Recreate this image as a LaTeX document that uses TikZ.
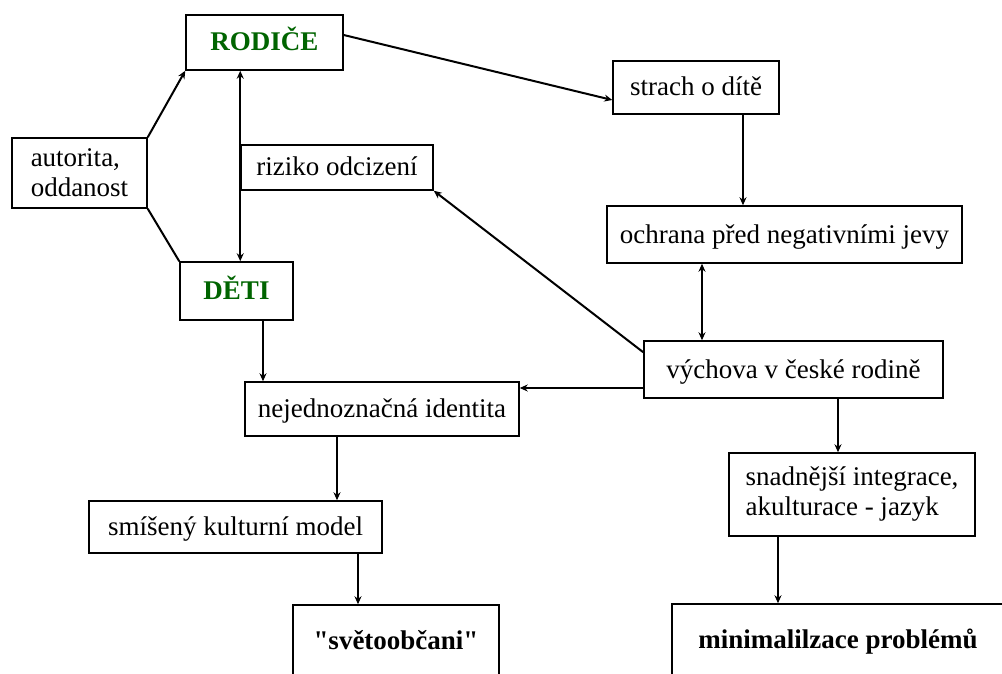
\documentclass[tikz,border=0pt]{standalone}
\usepackage{fontspec}
\setmainfont{Liberation Serif}
\usetikzlibrary{arrows.meta}
\definecolor{rodgreen}{RGB}{0,100,0}
\tikzset{
    every node/.style={font=\fontsize{27}{30}\selectfont},
    box/.style={draw, line width=1.5pt, inner sep=0pt, text height=19pt, text depth=2pt},
    twobox/.style={draw, line width=1.5pt, inner sep=0pt, align=left},
    head/.style={box, text=rodgreen, font=\fontsize{27}{30}\selectfont\bfseries},
    endbox/.style={box, font=\fontsize{27}{30}\selectfont\bfseries}
}
\tikzset{
    link/.style={line width=2pt},
    >={Stealth[length=8pt,width=7pt]}
}

\begin{document}
\begin{tikzpicture}[x=1pt, y=-1pt]
  \useasboundingbox (0,0) rectangle (1002,674);

  \node (rodice) [head, minimum width=157pt, minimum height=55pt] at (264.5, 42.5) {RODIČE};
  \node (strach) [box, minimum width=166pt, minimum height=53pt] at (696, 87.5) {strach o dítě};
  \node (autorita) [twobox, minimum width=135pt, minimum height=70pt] at (79.5, 173) {autorita,\\oddanost};
  \node (riziko) [box, minimum width=192pt, minimum height=45pt] at (337, 167.5) {riziko odcizení};
  \node (ochrana) [box, minimum width=355pt, minimum height=57pt] at (784.5, 234.5) {ochrana před negativními jevy};
  \node (deti) [head, minimum width=113pt, minimum height=58pt] at (236.5, 291) {DĚTI};
  \node (vychova) [box, minimum width=299pt, minimum height=57pt] at (793.5, 369.5) {výchova v české rodině};
  \node (identita) [box, minimum width=274pt, minimum height=54pt] at (382, 409) {nejednoznačná identita};
  \node (integrace) [twobox, minimum width=246pt, minimum height=83pt] at (852, 494.5) {snadnější integrace,\\akulturace - jazyk};
  \node (model) [box, minimum width=293pt, minimum height=52pt] at (235.5, 527) {smíšený kulturní model};
  \node (svet) [endbox, minimum width=206pt, minimum height=72pt] at (396, 641) {\textquotedbl světoobčani\textquotedbl};
  \node (minim) [endbox, minimum width=332pt, minimum height=72pt] at (838, 640) {minimalilzace problémů};

  \draw[link, ->] (autorita.north east) -- (rodice.south west);
  \draw[link] (autorita.south east) -- (deti.north west);
  \draw[link, <->] (rodice.south -| riziko.west) -- (deti.north -| riziko.west);
  \draw[link, ->] ([yshift=7.5pt]rodice.east) -- ([yshift=-12.5pt]strach.west);
  \draw[link, ->] ([xshift=47pt]strach.south) -- ([xshift=47pt]strach.south |- ochrana.north);
  \draw[link, <->] ([xshift=-91.5pt]vychova.north |- ochrana.south) -- ([xshift=-91.5pt]vychova.north);
  \draw[link, ->] ([yshift=-12pt]vychova.north west) -- (riziko.south east);
  \draw[link, ->] ([yshift=-18.5pt]vychova.west) -- ([yshift=-18.5pt]vychova.west -| identita.east);
  \draw[link, ->] ([xshift=26.5pt]deti.south) -- ([xshift=26.5pt]deti.south |- identita.north);
  \draw[link, ->] ([xshift=-45pt]identita.south) -- ([xshift=-45pt]identita.south |- model.north);
  \draw[link, ->] ([xshift=122.5pt]model.south) -- ([xshift=122.5pt]model.south |- svet.north);
  \draw[link, ->] ([xshift=44.5pt]vychova.south) -- ([xshift=44.5pt]vychova.south |- integrace.north);
  \draw[link, ->] ([xshift=-74pt]integrace.south) -- ([xshift=-74pt]integrace.south |- minim.north);
\end{tikzpicture}
\end{document}
